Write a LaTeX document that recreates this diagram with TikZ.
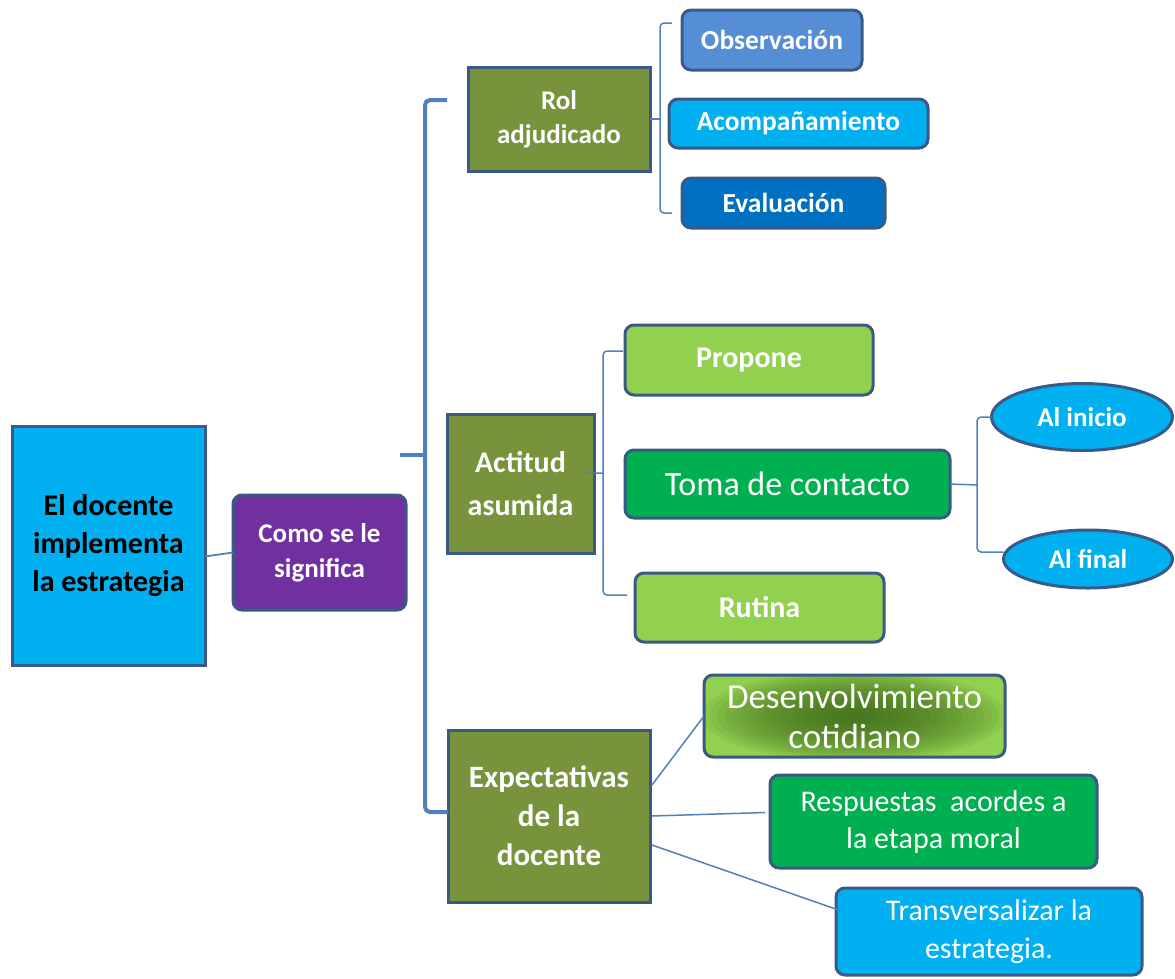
\documentclass[tikz,border=0pt]{standalone}
\usepackage{fontspec}
\setmainfont{Carlito}
\usetikzlibrary{shapes.geometric}
\definecolor{bordc}{HTML}{3A5A85}
\definecolor{linec}{HTML}{4F81BD}
\definecolor{cyanb}{HTML}{00B0F0}
\definecolor{purp}{HTML}{7030A0}
\definecolor{olive}{HTML}{77933C}
\definecolor{obsb}{HTML}{558ED5}
\definecolor{evab}{HTML}{0070C0}
\definecolor{lgreen}{HTML}{92D050}
\definecolor{dgreen}{HTML}{00B050}
\definecolor{shadeg}{HTML}{3F6A1C}
\newcommand\myfs[2]{\fontsize{#1}{#2}\selectfont}
\begin{document}
\begin{tikzpicture}[x=1pt,y=-1pt,
  box/.style={draw=bordc, line width=3pt, outer sep=0pt, inner sep=2pt, align=center, text=white},
  rbox/.style={box, rounded corners=9pt},
  olivebox/.style={box, fill=olive, font=\myfs{30}{38}\bfseries},
  bigbrace/.style={draw=linec, line width=4pt, rounded corners=5pt},
  thinbrace/.style={draw=linec, line width=1.5pt, rounded corners=4pt},
  conn/.style={draw=linec, line width=1.8pt},
  ell/.style={ellipse, draw=bordc, line width=3pt, fill=cyanb, text=white, outer sep=0pt, inner sep=0pt, font=\myfs{27}{33}\bfseries},
  glowfill/.style={fill=lgreen, path picture={
      \foreach \i [evaluate=\i as \rx using 160*(1-\i/21), evaluate=\i as \ry using 48*(1-\i/21)] in {1,...,20}
        \fill[shadeg, opacity=0.085] (path picture bounding box.center) ellipse [x radius=\rx, y radius=\ry];
  }}
]
\useasboundingbox (0,0) rectangle (1175,978);

% main and first level
\node[box, fill=cyanb, text=black, minimum width=193pt, minimum height=239pt, font=\myfs{30}{38}\bfseries] (main) at (108.5,545.5) {El docente\\implementa\\la estrategia};
\node[rbox, fill=purp, minimum width=173pt, minimum height=115pt, font=\myfs{27}{35}\bfseries] (como) at (319.5,552.5) {Como se le\\significa};

% second level
\node[olivebox, minimum width=182pt, minimum height=104pt, font=\myfs{27}{34}\bfseries] (rol) at (559,119) {Rol\\adjudicado};
\node[olivebox, minimum width=147pt, minimum height=139pt, font=\myfs{30}{43}\bfseries] (act) at (520.5,483.5) {Actitud\\asumida};
\node[olivebox, minimum width=202pt, minimum height=172pt, font=\myfs{31}{39}\bfseries] (exp) at (549,816) {Expectativas\\de la\\docente};

% rol children
\node[rbox, fill=obsb, minimum width=180pt, minimum height=60pt, font=\myfs{27.5}{33}\bfseries] (obs) at (772,40) {Observación};
\node[rbox, fill=cyanb, minimum width=259pt, minimum height=49pt, font=\myfs{27.5}{33}\bfseries] (aco) at (798.5,123.5) {Acompañamiento};
\node[rbox, fill=evab, minimum width=203pt, minimum height=50pt, font=\myfs{27.5}{33}\bfseries] (eva) at (783.5,203) {Evaluación};

% actitud children
\node[rbox, fill=lgreen, minimum width=248pt, minimum height=70pt, font=\myfs{30}{36}\bfseries] (pro) at (749,360) {Propone};
\node[rbox, fill=dgreen, minimum width=325pt, minimum height=68pt, font=\myfs{34}{40}] (toma) at (787.5,484) {Toma de contacto};
\node[rbox, fill=lgreen, minimum width=249pt, minimum height=69pt, font=\myfs{30}{36}\bfseries] (rut) at (759.5,607.5) {Rutina};

% toma children
\node[ell, minimum width=181pt, minimum height=67pt] (ini) at (1082,417) {Al inicio};
\node[ell, minimum width=169pt, minimum height=58pt] (fin) at (1088,559) {Al final};

% expectativas children
\node[rbox, glowfill, minimum width=301pt, minimum height=82pt, font=\myfs{35}{40}] (des) at (854.5,716) {Desenvolvimiento\\cotidiano};
\node[rbox, fill=dgreen, minimum width=327pt, minimum height=93pt, font=\myfs{30}{37}] (res) at (933.5,821.5) {Respuestas\ \ acordes a\\la etapa moral};
\node[rbox, fill=cyanb, minimum width=306pt, minimum height=87pt, font=\myfs{30}{38}] (tra) at (989,931.5) {Transversalizar la\\estrategia.};

% connectors
\draw[conn] ([yshift=-11pt]main.east) -- (como.west);

\coordinate (brTop) at (447,100);
\coordinate (brX) at (425,455);
\coordinate (brMid) at (400,455);
\draw[bigbrace] (brTop) -| (brX) |- ([yshift=4pt]exp.west);
\draw[bigbrace, rounded corners=0pt] (brMid) -- (brX);

\coordinate (rX) at (660,119);
\coordinate (rTop) at (672,23);
\coordinate (rBot) at (672,213);
\draw[thinbrace] (rTop) -| (rX) |- (rBot);
\draw[thinbrace] (rol.east) -- (rX);

\coordinate (aX) at (603,473);
\coordinate (aTop) at (623,351);
\coordinate (aBot) at (627,595);
\draw[thinbrace] (aTop) -| (aX) |- (aBot);
\draw[thinbrace] ([yshift=10pt, xshift=-11pt]act.east) -- (aX);

\coordinate (tX) at (977,485);
\draw[thinbrace] (ini.west) -| (tX) |- ([yshift=7pt]fin.west);
\draw[thinbrace] (toma.east) -- (tX);

\draw[conn, line width=1.5pt] ([yshift=31pt, xshift=2pt]exp.east) -- (des.west);
\draw[conn, line width=1.5pt] ([xshift=2pt]exp.east) -- ([yshift=9pt, xshift=-5pt]res.west);
\draw[conn, line width=1.5pt] ([yshift=-29pt, xshift=2pt]exp.east) -- ([yshift=21pt, xshift=4pt]tra.west);
\end{tikzpicture}
\end{document}
